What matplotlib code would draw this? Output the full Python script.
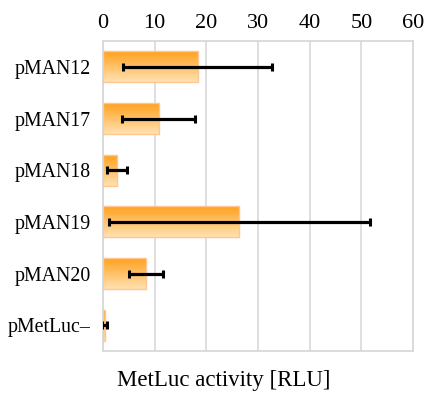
import numpy as np
import matplotlib
matplotlib.use("Agg")
import matplotlib.pyplot as plt
from matplotlib.colors import LinearSegmentedColormap

plt.rcParams['font.family'] = ['Liberation Serif', 'DejaVu Serif']

constructs = ["pMAN12", "pMAN17", "pMAN18", "pMAN19", "pMAN20", "pMetLuc\u2013"]
activity = [18.3, 10.8, 2.7, 26.4, 8.3, 0.3]
activity_err = [14.4, 7.1, 2.0, 25.3, 3.3, 0.5]
x_ticks = [0, 10, 20, 30, 40, 50, 60]

fig = plt.figure(figsize=(4.26, 3.96), dpi=100)
ax = fig.add_axes([103 / 426, 1 - 351 / 396, 310 / 426, 310 / 396])

y = np.arange(len(constructs))
bars = ax.barh(y, activity, height=0.6, color="none",
               edgecolor="#ffc592", linewidth=1.0, zorder=3)

# vertical orange gradient fill for each bar
grad_cmap = LinearSegmentedColormap.from_list("orange_fade", ["#ffa11c", "#ffe2b4"])
grad = np.linspace(0, 1, 256).reshape(-1, 1)
for b in bars:
    x0, y0 = b.get_x(), b.get_y()
    w, h = b.get_width(), b.get_height()
    im = ax.imshow(grad, cmap=grad_cmap, aspect="auto",
                   extent=[x0, x0 + w, y0 + h, y0], origin="upper", zorder=2)
    im.set_clip_path(b)

ax.errorbar(activity, y, xerr=activity_err, fmt="none", ecolor="black",
            elinewidth=2.3, capsize=3, capthick=2.2, zorder=4)

ax.set_xlim(0, 60)
ax.set_ylim(len(constructs) - 0.5, -0.5)
ax.set_yticks(y)
ax.set_yticklabels(constructs, fontsize=14.3)
ax.set_xticks(x_ticks)
ax.set_xticklabels([str(t) for t in x_ticks], fontsize=16)
ax.xaxis.tick_top()
ax.tick_params(axis="both", length=0)
ax.tick_params(axis="x", pad=6)
ax.tick_params(axis="y", pad=9)

ax.grid(axis="x", color="#d9d9d9", linewidth=1.2, zorder=0)
ax.set_axisbelow(True)
for s in ax.spines.values():
    s.set_color("#d9d9d9")
    s.set_linewidth(1.3)

ax.xaxis.set_label_position("bottom")
ax.set_xlabel("MetLuc activity [RLU]", fontsize=16.5)
ax.xaxis.label.set_verticalalignment("center")
ax.xaxis.set_label_coords(0.389, -0.094)

fig.savefig("out.png", dpi=100, facecolor="white")
